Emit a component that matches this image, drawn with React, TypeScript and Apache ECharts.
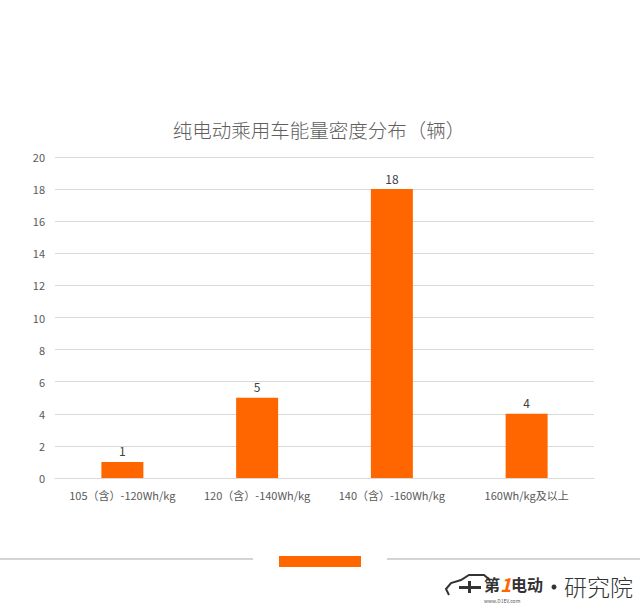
import React, { useEffect, useRef } from "react";
import * as echarts from "echarts";

const categories = [
  "105（含）-120Wh/kg",
  "120（含）-140Wh/kg",
  "140（含）-160Wh/kg",
  "160Wh/kg及以上",
];
const values = [1, 5, 18, 4];
const title = "纯电动乘用车能量密度分布（辆）";

export default function App() {
  const ref = useRef<HTMLDivElement>(null);
  useEffect(() => {
    const chart = echarts.init(ref.current!, undefined, { renderer: "svg" });
    const font = "'Noto Sans CJK SC', 'Microsoft YaHei', sans-serif";
    chart.setOption({
      animation: false,
      backgroundColor: "#ffffff",
      title: {
        text: title,
        left: 314,
        textAlign: "center",
        top: 115,
        textStyle: { fontSize: 19.5, fontWeight: 300, color: "#606060", fontFamily: font },
      },
      grid: { left: 55, right: 46, top: 157, bottom: 127 },
      xAxis: {
        type: "category",
        data: categories,
        axisLine: { lineStyle: { color: "#d9d9d9", width: 1 } },
        axisTick: { show: false },
        axisLabel: { color: "#595959", fontSize: 11, margin: 11, fontFamily: font, interval: 0 },
      },
      yAxis: {
        type: "value",
        min: 0,
        max: 20,
        interval: 2,
        axisLine: { show: false },
        axisTick: { show: false },
        splitLine: { lineStyle: { color: "#d9d9d9", width: 1 } },
        axisLabel: { color: "#595959", fontSize: 11, margin: 10, fontFamily: font },
      },
      series: [
        {
          type: "bar",
          data: values,
          barWidth: 42,
          itemStyle: { color: "#ff6600" },
          label: {
            show: true,
            position: "top",
            distance: 5,
            color: "#404040",
            fontSize: 12,
            fontFamily: font,
          },
        },
      ],
      graphic: [
        { type: "rect", shape: { x: 0, y: 558, width: 253, height: 2 }, style: { fill: "#d4d4d4" } },
        { type: "rect", shape: { x: 387, y: 558, width: 253, height: 2 }, style: { fill: "#d4d4d4" } },
        { type: "rect", shape: { x: 279, y: 556, width: 82, height: 11 }, style: { fill: "#ff6600" } },
        {
          type: "polyline",
          shape: {
            points: [
              [449, 595], [446, 589], [451, 583], [461, 580], [469, 575], [484, 575], [490, 580],
            ],
          },
          style: { stroke: "#333", lineWidth: 2, fill: "none" },
        },
        { type: "rect", shape: { x: 459, y: 586, width: 22, height: 3 }, style: { fill: "#333" } },
        { type: "rect", shape: { x: 468, y: 581, width: 3, height: 12 }, style: { fill: "#333" } },
        {
          type: "text",
          style: { x: 484, y: 584, text: "第", fontSize: 16, fontWeight: "bold", fill: "#333", textVerticalAlign: "middle", fontFamily: font },
        },
        {
          type: "text",
          style: { x: 500, y: 583, text: "1", fontSize: 19, fontWeight: "bold", fontStyle: "italic", fill: "#ff6600", textVerticalAlign: "middle", fontFamily: font },
        },
        {
          type: "text",
          style: { x: 511, y: 584, text: "电动", fontSize: 16, fontWeight: "bold", fill: "#333", textVerticalAlign: "middle", fontFamily: font },
        },
        {
          type: "text",
          style: { x: 484, y: 600, text: "www.D1EV.com", fontSize: 5, fill: "#555", textVerticalAlign: "middle", fontFamily: font },
        },
        {
          type: "circle",
          shape: { cx: 554, cy: 587, r: 2.5 },
          style: { fill: "#333" },
        },
        {
          type: "text",
          style: { x: 564, y: 586, text: "研究院", fontSize: 23, fontWeight: 300, fill: "#333", textVerticalAlign: "middle", fontFamily: font },
        },
      ],
    });
    return () => chart.dispose();
  }, []);
  return <div ref={ref} style={{ width: 640, height: 605, position: "absolute", left: 0, top: 0 }} />;
}
